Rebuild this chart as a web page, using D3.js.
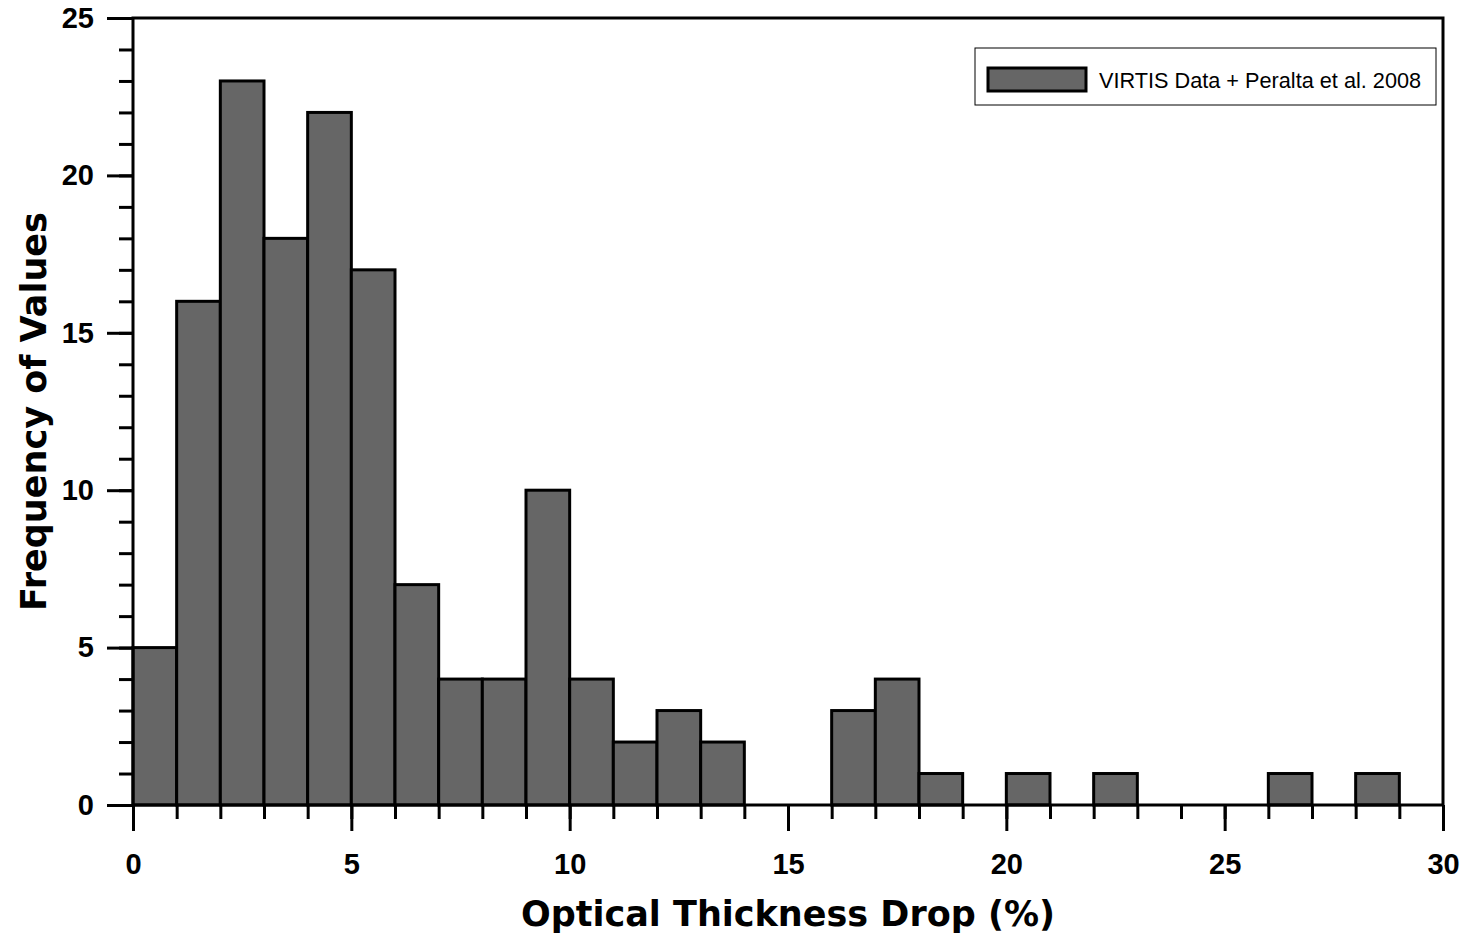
<!DOCTYPE html>
<html>
<head>
<meta charset="utf-8">
<script src="https://cdn.jsdelivr.net/npm/d3@7"></script>
<style>
  html, body { margin: 0; padding: 0; background: #fff; }
  svg { display: block; }
</style>
</head>
<body>
<svg id="chart"></svg>
<script>
// histogram bins (width 1) and counts
const binStarts = d3.range(0, 30);
const counts = [5, 16, 23, 18, 22, 17, 7, 4, 4, 10, 4, 2, 3, 2, 0, 0, 3, 4, 1, 0, 1, 0, 1, 0, 0, 0, 1, 0, 1, 0];
const xTicks = [0, 5, 10, 15, 20, 25, 30];
const yTicks = [0, 5, 10, 15, 20, 25];
const seriesName = "VIRTIS Data + Peralta et al. 2008";
const xTitle = "Optical Thickness Drop (%)";
const yTitle = "Frequency of Values";

const width = 1463, height = 933;
const margin = { top: 18, right: 20, bottom: 128, left: 133 };

const svg = d3.select("#chart").attr("width", width).attr("height", height);

const x = d3.scaleLinear().domain([0, 30]).range([margin.left, width - margin.right]);
const y = d3.scaleLinear().domain([0, 25]).range([height - margin.bottom, margin.top]);

const barColor = "#666666";

const data = binStarts.map(function (s, i) { return { x0: s, x1: s + 1, n: counts[i] }; })
    .filter(function (d) { return d.n > 0; });

svg.append("g").selectAll("rect")
    .data(data)
    .enter()
    .append("rect")
    .attr("x", function (d) { return x(d.x0); })
    .attr("y", function (d) { return y(d.n); })
    .attr("width", function (d) { return x(d.x1) - x(d.x0); })
    .attr("height", function (d) { return y(0) - y(d.n); })
    .attr("fill", barColor)
    .attr("stroke", "#000")
    .attr("stroke-width", 3);

// frame
svg.append("rect")
    .attr("x", x(0)).attr("y", y(25))
    .attr("width", x(30) - x(0)).attr("height", y(0) - y(25))
    .attr("fill", "none").attr("stroke", "#000").attr("stroke-width", 3);

const tickFont = "'Liberation Sans', Arial, sans-serif";

const styleTicks = function (g) {
    g.select(".domain").remove();
    g.selectAll("line").attr("stroke", "#000").attr("stroke-width", 3);
    g.selectAll("text").attr("fill", "#000").attr("font-family", tickFont)
        .attr("font-weight", "bold").attr("font-size", "29px");
};

// minor + major ticks, y
svg.append("g").attr("transform", "translate(" + x(0) + ",0)")
    .call(d3.axisLeft(y).tickValues(d3.range(0, 26)).tickSize(14).tickFormat(""))
    .call(styleTicks);
svg.append("g").attr("transform", "translate(" + x(0) + ",0)")
    .call(d3.axisLeft(y).tickValues(yTicks).tickSize(26).tickPadding(13))
    .call(styleTicks);

// minor + major ticks, x
svg.append("g").attr("transform", "translate(0," + y(0) + ")")
    .call(d3.axisBottom(x).tickValues(d3.range(0, 31)).tickSize(14).tickFormat(""))
    .call(styleTicks);
svg.append("g").attr("transform", "translate(0," + y(0) + ")")
    .call(d3.axisBottom(x).tickValues(xTicks).tickSize(26).tickPadding(22))
    .call(styleTicks);

// axis titles
const titleFont = "'DejaVu Sans', Verdana, sans-serif";
svg.append("text")
    .attr("x", (x(0) + x(30)) / 2)
    .attr("y", 926)
    .attr("text-anchor", "middle")
    .attr("font-family", titleFont)
    .attr("font-weight", "bold")
    .attr("font-size", "35px")
    .text(xTitle);

svg.append("text")
    .attr("transform", "translate(46," + ((y(0) + y(25)) / 2) + ") rotate(-90)")
    .attr("text-anchor", "middle")
    .attr("font-family", titleFont)
    .attr("font-weight", "bold")
    .attr("font-size", "35px")
    .text(yTitle);

// legend
const legend = svg.append("g").attr("transform", "translate(975,48)");
legend.append("rect")
    .attr("width", 461).attr("height", 57)
    .attr("fill", "#fff").attr("stroke", "#000").attr("stroke-width", 1);
legend.append("rect")
    .attr("x", 13).attr("y", 20).attr("width", 98).attr("height", 23)
    .attr("fill", barColor).attr("stroke", "#000").attr("stroke-width", 3);
legend.append("text")
    .attr("x", 124).attr("y", 40)
    .attr("font-family", tickFont)
    .attr("font-size", "21.7px")
    .text(seriesName);
</script>
</body>
</html>
